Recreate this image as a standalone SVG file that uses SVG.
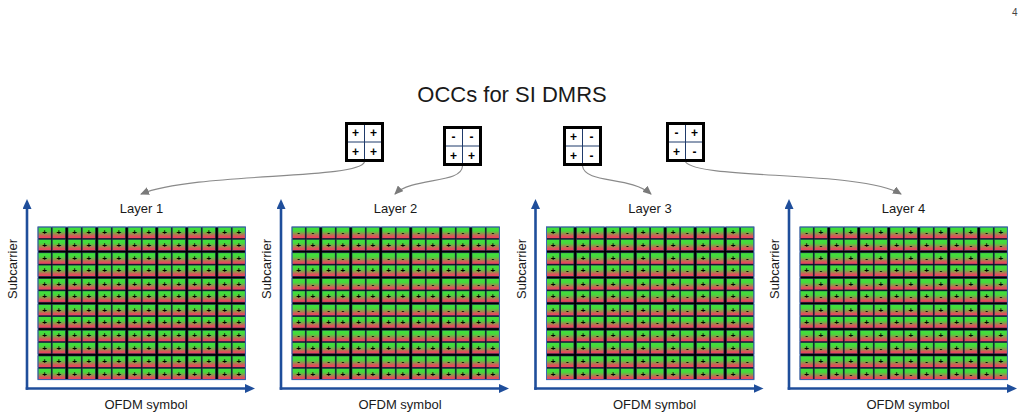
<svg xmlns="http://www.w3.org/2000/svg" xmlns:xlink="http://www.w3.org/1999/xlink" width="1026" height="420" viewBox="0 0 1026 420">
<style>
.t{font-family:"Liberation Sans",Arial,sans-serif;fill:#1a1a1a}
.lbl{font-size:13px;text-anchor:middle}
.s{font-family:"Liberation Sans",Arial,sans-serif;font-weight:bold;font-size:8px;text-anchor:middle;fill:#000}
.o{font-family:"Liberation Sans",Arial,sans-serif;font-weight:bold;font-size:12px;text-anchor:middle;fill:#000}
.c{fill:url(#cg);stroke:#1c2a55;stroke-width:0.6}
.ax{stroke:#1f4e9b;stroke-width:2.6;fill:none}
.cn{stroke:#8a8a8a;stroke-width:1.1;fill:none}
.bx{fill:#fff;stroke:#000;stroke-width:3}
.bl{stroke:#1f3a6a;stroke-width:1}
</style>
<defs>
<linearGradient id="cg" x1="0" y1="0" x2="0" y2="1">
<stop offset="0" stop-color="#3fe23c"/>
<stop offset="0.35" stop-color="#46d83c"/>
<stop offset="0.8" stop-color="#d8565a"/>
<stop offset="1" stop-color="#f2405e"/>
</linearGradient>
<marker id="ah" markerUnits="userSpaceOnUse" markerWidth="10" markerHeight="9" refX="5" refY="4.5" orient="auto">
<path d="M0,0 L10,4.5 L0,9 z" fill="#1f4e9b"/>
</marker>
<marker id="ga" markerUnits="userSpaceOnUse" markerWidth="9" markerHeight="8" refX="8" refY="4" orient="auto">
<path d="M0,0 L9,4 L0,8 z" fill="#7a7a7a"/>
</marker>
<g id="row">
<rect class="c" x="0" y="0" width="13.2" height="11.3"/>
<rect class="c" x="14.2" y="0" width="13.2" height="11.3"/>
<rect class="c" x="30" y="0" width="13.2" height="11.3"/>
<rect class="c" x="44.2" y="0" width="13.2" height="11.3"/>
<rect class="c" x="60" y="0" width="13.2" height="11.3"/>
<rect class="c" x="74.2" y="0" width="13.2" height="11.3"/>
<rect class="c" x="90" y="0" width="13.2" height="11.3"/>
<rect class="c" x="104.2" y="0" width="13.2" height="11.3"/>
<rect class="c" x="120" y="0" width="13.2" height="11.3"/>
<rect class="c" x="134.2" y="0" width="13.2" height="11.3"/>
<rect class="c" x="150" y="0" width="13.2" height="11.3"/>
<rect class="c" x="164.2" y="0" width="13.2" height="11.3"/>
<rect class="c" x="180" y="0" width="13.2" height="11.3"/>
<rect class="c" x="194.2" y="0" width="13.2" height="11.3"/>
</g>
<g id="gridbg">
<rect x="0" y="0" width="207.4" height="152.6" fill="#000"/>
<use xlink:href="#row" href="#row" y="0"/>
<use xlink:href="#row" href="#row" y="12.3"/>
<use xlink:href="#row" href="#row" y="25.8"/>
<use xlink:href="#row" href="#row" y="38.1"/>
<use xlink:href="#row" href="#row" y="51.6"/>
<use xlink:href="#row" href="#row" y="63.9"/>
<use xlink:href="#row" href="#row" y="77.4"/>
<use xlink:href="#row" href="#row" y="89.7"/>
<use xlink:href="#row" href="#row" y="103.2"/>
<use xlink:href="#row" href="#row" y="115.5"/>
<use xlink:href="#row" href="#row" y="129"/>
<use xlink:href="#row" href="#row" y="141.3"/>
<rect x="0" y="0" width="207.4" height="152.6" fill="none" stroke="#3a68b4" stroke-width="1"/>
</g>
</defs>
<rect width="1026" height="420" fill="#fff"/>
<text x="1012" y="16" font-family="Liberation Sans,Arial,sans-serif" font-size="10" fill="#444">4</text>
<g id="title"><text class="t" x="512" y="102" font-size="22" text-anchor="middle">OCCs for SI DMRS</text></g>

<g id="occ1" transform="translate(345,122)">
<rect class="bx" x="1.5" y="1.5" width="36" height="37"/>
<line class="bl" x1="19.5" y1="3" x2="19.5" y2="37"/><line class="bl" x1="3" y1="20" x2="36" y2="20"/>
<text class="o" x="10.5" y="15">+</text><text class="o" x="28.5" y="15">+</text>
<text class="o" x="10.5" y="34">+</text><text class="o" x="28.5" y="34">+</text>
</g>
<g id="occ2" transform="translate(443,126)">
<rect class="bx" x="1.5" y="1.5" width="36" height="37"/>
<line class="bl" x1="19.5" y1="3" x2="19.5" y2="37"/><line class="bl" x1="3" y1="20" x2="36" y2="20"/>
<text class="o" x="10.5" y="15">-</text><text class="o" x="28.5" y="15">-</text>
<text class="o" x="10.5" y="34">+</text><text class="o" x="28.5" y="34">+</text>
</g>
<g id="occ3" transform="translate(563,126)">
<rect class="bx" x="1.5" y="1.5" width="36" height="37"/>
<line class="bl" x1="19.5" y1="3" x2="19.5" y2="37"/><line class="bl" x1="3" y1="20" x2="36" y2="20"/>
<text class="o" x="10.5" y="15">+</text><text class="o" x="28.5" y="15">-</text>
<text class="o" x="10.5" y="34">+</text><text class="o" x="28.5" y="34">-</text>
</g>
<g id="occ4" transform="translate(666,122)">
<rect class="bx" x="1.5" y="1.5" width="36" height="37"/>
<line class="bl" x1="19.5" y1="3" x2="19.5" y2="37"/><line class="bl" x1="3" y1="20" x2="36" y2="20"/>
<text class="o" x="10.5" y="15">-</text><text class="o" x="28.5" y="15">+</text>
<text class="o" x="10.5" y="34">+</text><text class="o" x="28.5" y="34">-</text>
</g>

<g id="connectors">
<path class="cn" d="M364.5,162 C358,180 195,172 141,194" marker-end="url(#ga)"/>
<path class="cn" d="M462.5,166 C462,184 412,177 395,194" marker-end="url(#ga)"/>
<path class="cn" d="M582.5,166 C585,184 630,176 651,194" marker-end="url(#ga)"/>
<path class="cn" d="M685.5,162 C700,180 860,170 901,194" marker-end="url(#ga)"/>
</g>

<g id="layer1">
<text class="t lbl" x="141.5" y="213">Layer 1</text>
<text class="t lbl" x="146" y="409">OFDM symbol</text>
<text class="t lbl" transform="translate(17,269) rotate(-90)">Subcarrier</text>
<line class="ax" x1="27" y1="389.8" x2="27" y2="204" marker-end="url(#ah)"/>
<line class="ax" x1="25.7" y1="388.5" x2="250" y2="388.5" marker-end="url(#ah)"/>
<g transform="translate(38,227)">
<use xlink:href="#gridbg" href="#gridbg"/>
<g class="s">
<text x="6.6 20.8 36.6 50.8 66.6 80.8 96.6 110.8 126.6 140.8 156.6 170.8 186.6 200.8" y="8.2">++++++++++++++</text>
<text x="6.6 20.8 36.6 50.8 66.6 80.8 96.6 110.8 126.6 140.8 156.6 170.8 186.6 200.8" y="20.5">++++++++++++++</text>
<text x="6.6 20.8 36.6 50.8 66.6 80.8 96.6 110.8 126.6 140.8 156.6 170.8 186.6 200.8" y="34">++++++++++++++</text>
<text x="6.6 20.8 36.6 50.8 66.6 80.8 96.6 110.8 126.6 140.8 156.6 170.8 186.6 200.8" y="46.3">++++++++++++++</text>
<text x="6.6 20.8 36.6 50.8 66.6 80.8 96.6 110.8 126.6 140.8 156.6 170.8 186.6 200.8" y="59.8">++++++++++++++</text>
<text x="6.6 20.8 36.6 50.8 66.6 80.8 96.6 110.8 126.6 140.8 156.6 170.8 186.6 200.8" y="72.1">++++++++++++++</text>
<text x="6.6 20.8 36.6 50.8 66.6 80.8 96.6 110.8 126.6 140.8 156.6 170.8 186.6 200.8" y="85.6">++++++++++++++</text>
<text x="6.6 20.8 36.6 50.8 66.6 80.8 96.6 110.8 126.6 140.8 156.6 170.8 186.6 200.8" y="97.9">++++++++++++++</text>
<text x="6.6 20.8 36.6 50.8 66.6 80.8 96.6 110.8 126.6 140.8 156.6 170.8 186.6 200.8" y="111.4">++++++++++++++</text>
<text x="6.6 20.8 36.6 50.8 66.6 80.8 96.6 110.8 126.6 140.8 156.6 170.8 186.6 200.8" y="123.7">++++++++++++++</text>
<text x="6.6 20.8 36.6 50.8 66.6 80.8 96.6 110.8 126.6 140.8 156.6 170.8 186.6 200.8" y="137.2">++++++++++++++</text>
<text x="6.6 20.8 36.6 50.8 66.6 80.8 96.6 110.8 126.6 140.8 156.6 170.8 186.6 200.8" y="149.5">++++++++++++++</text>
</g>
</g>
</g>

<g id="layer2">
<text class="t lbl" x="395.5" y="213">Layer 2</text>
<text class="t lbl" x="400" y="409">OFDM symbol</text>
<text class="t lbl" transform="translate(271,269) rotate(-90)">Subcarrier</text>
<line class="ax" x1="281" y1="389.8" x2="281" y2="204" marker-end="url(#ah)"/>
<line class="ax" x1="279.7" y1="388.5" x2="504" y2="388.5" marker-end="url(#ah)"/>
<g transform="translate(292,227)">
<use xlink:href="#gridbg" href="#gridbg"/>
<g class="s">
<text x="6.6 20.8 36.6 50.8 66.6 80.8 96.6 110.8 126.6 140.8 156.6 170.8 186.6 200.8" y="8.2">--------------</text>
<text x="6.6 20.8 36.6 50.8 66.6 80.8 96.6 110.8 126.6 140.8 156.6 170.8 186.6 200.8" y="20.5">++++++++++++++</text>
<text x="6.6 20.8 36.6 50.8 66.6 80.8 96.6 110.8 126.6 140.8 156.6 170.8 186.6 200.8" y="34">--------------</text>
<text x="6.6 20.8 36.6 50.8 66.6 80.8 96.6 110.8 126.6 140.8 156.6 170.8 186.6 200.8" y="46.3">++++++++++++++</text>
<text x="6.6 20.8 36.6 50.8 66.6 80.8 96.6 110.8 126.6 140.8 156.6 170.8 186.6 200.8" y="59.8">--------------</text>
<text x="6.6 20.8 36.6 50.8 66.6 80.8 96.6 110.8 126.6 140.8 156.6 170.8 186.6 200.8" y="72.1">++++++++++++++</text>
<text x="6.6 20.8 36.6 50.8 66.6 80.8 96.6 110.8 126.6 140.8 156.6 170.8 186.6 200.8" y="85.6">--------------</text>
<text x="6.6 20.8 36.6 50.8 66.6 80.8 96.6 110.8 126.6 140.8 156.6 170.8 186.6 200.8" y="97.9">++++++++++++++</text>
<text x="6.6 20.8 36.6 50.8 66.6 80.8 96.6 110.8 126.6 140.8 156.6 170.8 186.6 200.8" y="111.4">--------------</text>
<text x="6.6 20.8 36.6 50.8 66.6 80.8 96.6 110.8 126.6 140.8 156.6 170.8 186.6 200.8" y="123.7">++++++++++++++</text>
<text x="6.6 20.8 36.6 50.8 66.6 80.8 96.6 110.8 126.6 140.8 156.6 170.8 186.6 200.8" y="137.2">--------------</text>
<text x="6.6 20.8 36.6 50.8 66.6 80.8 96.6 110.8 126.6 140.8 156.6 170.8 186.6 200.8" y="149.5">++++++++++++++</text>
</g>
</g>
</g>

<g id="layer3">
<text class="t lbl" x="650" y="213">Layer 3</text>
<text class="t lbl" x="654.5" y="409">OFDM symbol</text>
<text class="t lbl" transform="translate(525.5,269) rotate(-90)">Subcarrier</text>
<line class="ax" x1="535.5" y1="389.8" x2="535.5" y2="204" marker-end="url(#ah)"/>
<line class="ax" x1="534.2" y1="388.5" x2="758.5" y2="388.5" marker-end="url(#ah)"/>
<g transform="translate(546.5,227)">
<use xlink:href="#gridbg" href="#gridbg"/>
<g class="s">
<text x="6.6 20.8 36.6 50.8 66.6 80.8 96.6 110.8 126.6 140.8 156.6 170.8 186.6 200.8" y="8.2">+-+-+-+-+-+-+-</text>
<text x="6.6 20.8 36.6 50.8 66.6 80.8 96.6 110.8 126.6 140.8 156.6 170.8 186.6 200.8" y="20.5">+-+-+-+-+-+-+-</text>
<text x="6.6 20.8 36.6 50.8 66.6 80.8 96.6 110.8 126.6 140.8 156.6 170.8 186.6 200.8" y="34">+-+-+-+-+-+-+-</text>
<text x="6.6 20.8 36.6 50.8 66.6 80.8 96.6 110.8 126.6 140.8 156.6 170.8 186.6 200.8" y="46.3">+-+-+-+-+-+-+-</text>
<text x="6.6 20.8 36.6 50.8 66.6 80.8 96.6 110.8 126.6 140.8 156.6 170.8 186.6 200.8" y="59.8">+-+-+-+-+-+-+-</text>
<text x="6.6 20.8 36.6 50.8 66.6 80.8 96.6 110.8 126.6 140.8 156.6 170.8 186.6 200.8" y="72.1">+-+-+-+-+-+-+-</text>
<text x="6.6 20.8 36.6 50.8 66.6 80.8 96.6 110.8 126.6 140.8 156.6 170.8 186.6 200.8" y="85.6">+-+-+-+-+-+-+-</text>
<text x="6.6 20.8 36.6 50.8 66.6 80.8 96.6 110.8 126.6 140.8 156.6 170.8 186.6 200.8" y="97.9">+-+-+-+-+-+-+-</text>
<text x="6.6 20.8 36.6 50.8 66.6 80.8 96.6 110.8 126.6 140.8 156.6 170.8 186.6 200.8" y="111.4">+-+-+-+-+-+-+-</text>
<text x="6.6 20.8 36.6 50.8 66.6 80.8 96.6 110.8 126.6 140.8 156.6 170.8 186.6 200.8" y="123.7">+-+-+-+-+-+-+-</text>
<text x="6.6 20.8 36.6 50.8 66.6 80.8 96.6 110.8 126.6 140.8 156.6 170.8 186.6 200.8" y="137.2">+-+-+-+-+-+-+-</text>
<text x="6.6 20.8 36.6 50.8 66.6 80.8 96.6 110.8 126.6 140.8 156.6 170.8 186.6 200.8" y="149.5">+-+-+-+-+-+-+-</text>
</g>
</g>
</g>

<g id="layer4">
<text class="t lbl" x="903.5" y="213">Layer 4</text>
<text class="t lbl" x="908" y="409">OFDM symbol</text>
<text class="t lbl" transform="translate(779,269) rotate(-90)">Subcarrier</text>
<line class="ax" x1="789" y1="389.8" x2="789" y2="204" marker-end="url(#ah)"/>
<line class="ax" x1="787.7" y1="388.5" x2="1012" y2="388.5" marker-end="url(#ah)"/>
<g transform="translate(800,227)">
<use xlink:href="#gridbg" href="#gridbg"/>
<g class="s">
<text x="6.6 20.8 36.6 50.8 66.6 80.8 96.6 110.8 126.6 140.8 156.6 170.8 186.6 200.8" y="8.2">-+-+-+-+-+-+-+</text>
<text x="6.6 20.8 36.6 50.8 66.6 80.8 96.6 110.8 126.6 140.8 156.6 170.8 186.6 200.8" y="20.5">+-+-+-+-+-+-+-</text>
<text x="6.6 20.8 36.6 50.8 66.6 80.8 96.6 110.8 126.6 140.8 156.6 170.8 186.6 200.8" y="34">-+-+-+-+-+-+-+</text>
<text x="6.6 20.8 36.6 50.8 66.6 80.8 96.6 110.8 126.6 140.8 156.6 170.8 186.6 200.8" y="46.3">+-+-+-+-+-+-+-</text>
<text x="6.6 20.8 36.6 50.8 66.6 80.8 96.6 110.8 126.6 140.8 156.6 170.8 186.6 200.8" y="59.8">-+-+-+-+-+-+-+</text>
<text x="6.6 20.8 36.6 50.8 66.6 80.8 96.6 110.8 126.6 140.8 156.6 170.8 186.6 200.8" y="72.1">+-+-+-+-+-+-+-</text>
<text x="6.6 20.8 36.6 50.8 66.6 80.8 96.6 110.8 126.6 140.8 156.6 170.8 186.6 200.8" y="85.6">-+-+-+-+-+-+-+</text>
<text x="6.6 20.8 36.6 50.8 66.6 80.8 96.6 110.8 126.6 140.8 156.6 170.8 186.6 200.8" y="97.9">+-+-+-+-+-+-+-</text>
<text x="6.6 20.8 36.6 50.8 66.6 80.8 96.6 110.8 126.6 140.8 156.6 170.8 186.6 200.8" y="111.4">-+-+-+-+-+-+-+</text>
<text x="6.6 20.8 36.6 50.8 66.6 80.8 96.6 110.8 126.6 140.8 156.6 170.8 186.6 200.8" y="123.7">+-+-+-+-+-+-+-</text>
<text x="6.6 20.8 36.6 50.8 66.6 80.8 96.6 110.8 126.6 140.8 156.6 170.8 186.6 200.8" y="137.2">-+-+-+-+-+-+-+</text>
<text x="6.6 20.8 36.6 50.8 66.6 80.8 96.6 110.8 126.6 140.8 156.6 170.8 186.6 200.8" y="149.5">+-+-+-+-+-+-+-</text>
</g>
</g>
</g>
</svg>
